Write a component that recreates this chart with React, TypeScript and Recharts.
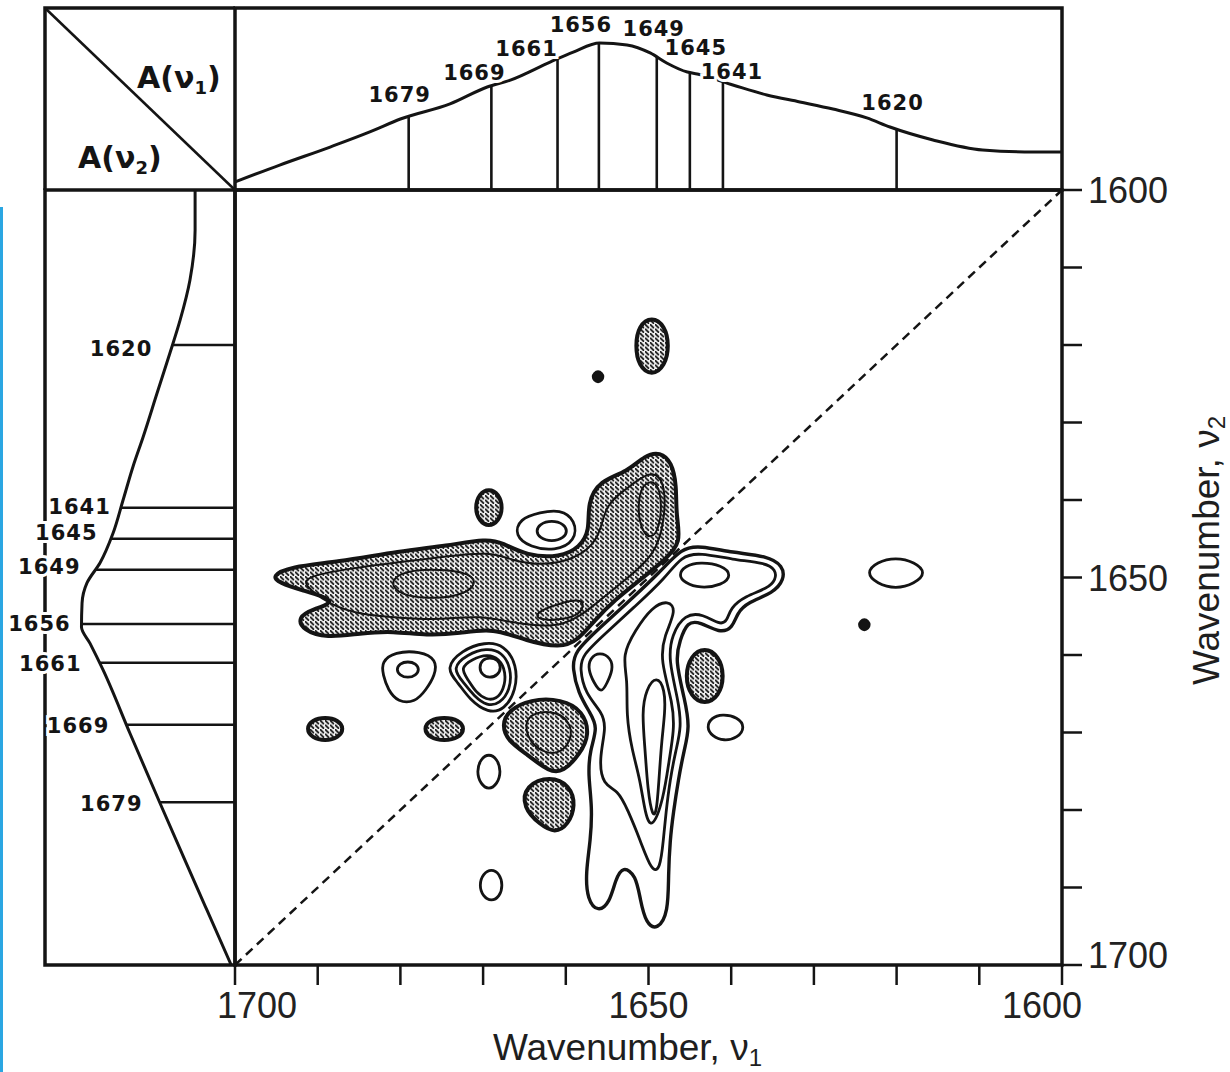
import React from "react";
import {
  Curve,
  ReferenceArea,
  ReferenceDot,
  ReferenceLine,
  Scatter,
  ScatterChart,
  XAxis,
  YAxis,
} from "recharts";

type Pair = [number, number];

const W = 1230;
const H = 1072;
const INK = "#141414";

// wavenumber ticks shared by both axes (cm-1)
const wavenumberTicks = [1600, 1610, 1620, 1630, 1640, 1650, 1660, 1670, 1680, 1690, 1700];

// absorbance A(ν1) above the map, [ν, A]
const topSpectrum: Pair[] = [
  [1700, 0.044], [1694.6, 0.137], [1688.5, 0.236], [1683.7, 0.319], [1680.0, 0.39],
  [1674.0, 0.473], [1669.5, 0.566], [1666.7, 0.604], [1661.9, 0.703], [1659.1, 0.758],
  [1655.9, 0.808], [1652.6, 0.797], [1649.8, 0.753], [1647.8, 0.698], [1645.3, 0.648],
  [1644.1, 0.637], [1639.8, 0.577], [1635.7, 0.522], [1631.7, 0.484], [1627.7, 0.445],
  [1623.6, 0.396], [1620.8, 0.346], [1615.6, 0.275], [1609.6, 0.22], [1603.5, 0.209],
  [1600, 0.209],
];

// absorbance A(ν2) left of the map, [ν, A]
const leftSpectrum: Pair[] = [
  [1600, 0.21], [1605.2, 0.21], [1611.6, 0.237], [1616.8, 0.289], [1621.0, 0.342],
  [1626.2, 0.41], [1631.9, 0.484], [1635.7, 0.537], [1640.0, 0.589], [1644.3, 0.642],
  [1648.1, 0.71], [1650.7, 0.779], [1653.3, 0.805], [1656.4, 0.808], [1658.5, 0.763],
  [1661.9, 0.695], [1670.1, 0.553], [1679.1, 0.395], [1686.5, 0.263], [1692.9, 0.148],
  [1700, 0.02],
];

// marked bands and the spectrum height at each
const bandNu = [1679, 1669, 1661, 1656, 1649, 1645, 1641, 1620];
const topBandAbs = [0.404, 0.573, 0.72, 0.807, 0.731, 0.645, 0.594, 0.335];
const leftBandAbs = [0.397, 0.572, 0.713, 0.807, 0.734, 0.655, 0.601, 0.33];

// label nudges in px (dx, dy), same order as bandNu
const topLabelNudge: Pair[] = [[-9, -21], [-17, -13], [-31, -10], [-18, -18], [-3, -28], [6, -25], [9, -10], [-4, -26]];
const leftLabelNudge: Pair[] = [[-17, 2], [-17, 1], [-18, 1], [-11, 0], [-15, -3], [-13, -6], [-10, -1], [-20, 4]];

// ---- synchronous (shaded) contours, [ν1, ν2] ----
const bandOuter: Pair[] = [
  [1695.6, 1649.8], [1693.3, 1648.6], [1687.7, 1648.0], [1680.0, 1646.6], [1674.4, 1645.9],
  [1669.5, 1645.0], [1667.7, 1645.5], [1664.7, 1647.2], [1660.7, 1647.4], [1658.3, 1646.1],
  [1657.1, 1643.9], [1657.4, 1640.4], [1655.9, 1637.5], [1652.6, 1636.4], [1650.4, 1634.2],
  [1648.6, 1633.8], [1647.2, 1635.1], [1646.6, 1638.1], [1646.7, 1641.9], [1646.0, 1645.5],
  [1648.0, 1647.7], [1651.0, 1650.3], [1654.1, 1652.9], [1656.5, 1655.5], [1658.5, 1658.1],
  [1660.7, 1659.1], [1664.7, 1658.2], [1668.8, 1656.5], [1672.8, 1657.2], [1676.8, 1657.5],
  [1680.9, 1656.9], [1684.9, 1657.2], [1688.9, 1657.8], [1691.8, 1656.8], [1692.4, 1655.1],
  [1690.6, 1654.1], [1687.3, 1653.0], [1692.1, 1651.6], [1694.6, 1650.7],
];
const bandInner: Pair[] = [
  [1692.1, 1650.1], [1687.3, 1649.0], [1680.0, 1648.0], [1674.0, 1647.2], [1669.2, 1646.7],
  [1666.7, 1647.7], [1663.1, 1648.5], [1658.9, 1647.7], [1655.9, 1645.2], [1655.3, 1640.6],
  [1652.8, 1638.7], [1649.8, 1636.1], [1648.0, 1637.4], [1648.0, 1642.6], [1649.2, 1647.1],
  [1652.8, 1650.3], [1656.5, 1653.5], [1660.1, 1656.5], [1665.5, 1656.1], [1670.4, 1654.8],
  [1675.2, 1655.5], [1680.0, 1655.2], [1684.9, 1654.8], [1688.5, 1653.5], [1690.9, 1651.6],
];
const bandInnerB: Pair[] = [
  [1650.8, 1637.9], [1649.1, 1637.4], [1648.4, 1639.7], [1648.6, 1643.6], [1649.8, 1645.2],
  [1651.0, 1643.6], [1651.3, 1640.6],
];
const bandInnerC: Pair[] = [
  [1680.7, 1649.3], [1675.2, 1648.8], [1670.4, 1649.7], [1671.6, 1652.3], [1677.6, 1652.9],
  [1681.3, 1651.6],
];
const bandInnerD: Pair[] = [
  [1663.7, 1654.5], [1660.7, 1653.3], [1657.7, 1652.6], [1658.0, 1654.7], [1660.5, 1655.5],
  [1663.4, 1655.5],
];
const islandTop: Pair[] = [
  [1649.6, 1616.3], [1648.0, 1617.5], [1647.5, 1620.1], [1648.0, 1622.7], [1649.6, 1624.0],
  [1651.2, 1622.7], [1651.6, 1620.1], [1651.2, 1617.5],
];
const dotUpper: Pair[] = [
  [1656.1, 1623.3], [1655.6, 1623.6], [1655.4, 1624.1], [1655.6, 1624.6], [1656.1, 1624.9],
  [1656.6, 1624.6], [1656.8, 1624.1], [1656.6, 1623.6],
];
const dotRight: Pair[] = [
  [1623.9, 1655.3], [1623.4, 1655.6], [1623.2, 1656.1], [1623.4, 1656.6], [1623.9, 1656.9],
  [1624.4, 1656.6], [1624.6, 1656.1], [1624.4, 1655.6],
];
const islandSmall: Pair[] = [
  [1669.3, 1638.5], [1668.1, 1639.2], [1667.6, 1641.0], [1668.1, 1642.7], [1669.3, 1643.5],
  [1670.5, 1642.7], [1671.0, 1641.0], [1670.5, 1639.2],
];
const blobLower: Pair[] = [
  [1667.0, 1667.2], [1664.3, 1665.7], [1660.5, 1665.7], [1657.9, 1667.2], [1657.1, 1670.3],
  [1658.3, 1672.8], [1660.3, 1675.1], [1662.0, 1675.1], [1664.6, 1672.9], [1667.1, 1671.0],
  [1667.7, 1669.0],
];
const blobLowerInner: Pair[] = [
  [1664.9, 1667.4], [1660.7, 1667.1], [1658.9, 1669.7], [1660.1, 1672.5], [1662.5, 1672.9],
  [1664.9, 1670.7],
];
const blobLowest: Pair[] = [
  [1664.9, 1676.8], [1661.9, 1675.6], [1659.5, 1676.8], [1658.8, 1679.4], [1659.7, 1681.9],
  [1661.3, 1683.0], [1663.1, 1681.9], [1665.2, 1679.7],
];
const ovalFarLeft: Pair[] = [
  [1689.1, 1668.0], [1687.5, 1668.4], [1686.8, 1669.5], [1687.5, 1670.7], [1689.1, 1671.1],
  [1690.7, 1670.7], [1691.4, 1669.5], [1690.7, 1668.4],
];
const ovalLeft: Pair[] = [
  [1674.7, 1668.0], [1672.9, 1668.4], [1672.2, 1669.5], [1672.9, 1670.7], [1674.7, 1671.1],
  [1676.5, 1670.7], [1677.2, 1669.5], [1676.5, 1668.4],
];
const ovalRight: Pair[] = [
  [1643.2, 1659.0], [1641.5, 1660.1], [1640.8, 1662.7], [1641.5, 1665.4], [1643.2, 1666.4],
  [1644.9, 1665.4], [1645.6, 1662.7], [1644.9, 1660.1],
];

// ---- open (unshaded) contours ----
const kidneyOuter: Pair[] = [
  [1665.6, 1642.4], [1663.1, 1641.6], [1660.7, 1641.2], [1658.8, 1642.6], [1658.8, 1645.3],
  [1661.3, 1646.6], [1664.3, 1646.1], [1666.2, 1644.6],
];
const kidneyInner: Pair[] = [
  [1661.7, 1642.6], [1660.2, 1643.1], [1659.8, 1644.0], [1660.2, 1644.9], [1661.7, 1645.4],
  [1663.2, 1644.9], [1663.6, 1644.0], [1663.2, 1643.1],
];
const ringLeftOuter: Pair[] = [
  [1682.3, 1660.9], [1680.7, 1659.6], [1677.6, 1659.5], [1675.6, 1660.6], [1675.8, 1662.6],
  [1676.9, 1664.5], [1678.2, 1666.1], [1680.3, 1666.1], [1681.5, 1664.5], [1682.1, 1662.6],
];
const ringLeftInner: Pair[] = [
  [1679.1, 1660.8], [1678.1, 1661.1], [1677.7, 1661.9], [1678.1, 1662.6], [1679.1, 1663.0],
  [1680.1, 1662.6], [1680.5, 1661.9], [1680.1, 1661.1],
];
const ringMidA: Pair[] = [
  [1674.6, 1661.7], [1672.6, 1659.4], [1669.8, 1658.3], [1667.4, 1658.7], [1665.9, 1661.3],
  [1666.0, 1664.5], [1667.4, 1667.1], [1669.4, 1667.5], [1671.6, 1665.8], [1673.0, 1663.6],
];
const ringMidB: Pair[] = [
  [1673.8, 1661.7], [1671.9, 1659.9], [1669.6, 1659.1], [1667.7, 1659.6], [1666.6, 1661.7],
  [1666.7, 1664.5], [1668.0, 1666.3], [1669.5, 1666.6], [1671.1, 1665.3], [1672.4, 1663.5],
];
const ringMidC: Pair[] = [
  [1672.8, 1661.7], [1671.3, 1660.5], [1669.5, 1659.9], [1668.1, 1660.4], [1667.2, 1662.2],
  [1667.5, 1664.5], [1668.4, 1665.7], [1669.6, 1665.8], [1670.9, 1664.8], [1671.8, 1663.2],
];
const ringMidD: Pair[] = [
  [1669.2, 1660.3], [1668.2, 1660.6], [1667.8, 1661.6], [1668.2, 1662.6], [1669.2, 1663.0],
  [1670.1, 1662.6], [1670.5, 1661.6], [1670.1, 1660.6],
];
const ovalBelowA: Pair[] = [
  [1669.3, 1672.7], [1668.3, 1673.4], [1667.8, 1675.0], [1668.3, 1676.7], [1669.3, 1677.4],
  [1670.3, 1676.7], [1670.8, 1675.0], [1670.3, 1673.4],
];
const ovalBelowB: Pair[] = [
  [1669.0, 1687.6], [1668.0, 1688.2], [1667.6, 1689.7], [1668.0, 1691.2], [1669.0, 1691.8],
  [1670.0, 1691.2], [1670.5, 1689.7], [1670.0, 1688.2],
];
const lensRight: Pair[] = [
  [1620.1, 1647.4], [1617.8, 1648.0], [1616.4, 1649.4], [1617.8, 1650.8], [1620.1, 1651.5],
  [1622.4, 1650.8], [1623.7, 1649.4], [1622.4, 1648.0],
];
const dropRight: Pair[] = [
  [1641.1, 1667.6], [1639.2, 1668.0], [1638.3, 1669.3], [1639.2, 1670.7], [1640.9, 1671.1],
  [1642.3, 1670.5], [1643.0, 1669.3], [1642.4, 1668.1],
];
const tailOuter: Pair[] = [
  [1646.0, 1646.2], [1643.8, 1645.9], [1639.8, 1646.8], [1635.7, 1647.2], [1633.7, 1648.5],
  [1633.6, 1650.3], [1634.9, 1652.0], [1638.0, 1653.2], [1639.3, 1654.6], [1639.8, 1656.5],
  [1641.4, 1657.2], [1643.8, 1655.7], [1645.3, 1655.7], [1646.2, 1658.1], [1646.8, 1660.6],
  [1645.6, 1665.8], [1645.0, 1669.3], [1645.7, 1672.3], [1646.4, 1676.1], [1647.0, 1680.4],
  [1647.4, 1683.9], [1647.6, 1688.4], [1647.6, 1693.2], [1648.9, 1695.5], [1650.3, 1694.7],
  [1651.0, 1691.6], [1651.5, 1688.4], [1653.1, 1687.2], [1654.0, 1689.0], [1654.7, 1692.0],
  [1656.1, 1693.2], [1657.4, 1691.6], [1657.6, 1688.1], [1657.0, 1683.9], [1656.8, 1679.6],
  [1657.3, 1675.5], [1657.1, 1672.3], [1656.1, 1669.3], [1657.1, 1667.4], [1658.5, 1664.9],
  [1659.2, 1661.7], [1659.0, 1659.6], [1655.9, 1656.5], [1652.2, 1652.9], [1648.6, 1649.3],
];
const tailSecond: Pair[] = [
  [1646.0, 1647.2], [1643.8, 1646.8], [1639.8, 1647.7], [1635.9, 1648.1], [1634.6, 1649.0],
  [1634.6, 1650.3], [1635.6, 1651.4], [1638.3, 1652.4], [1640.1, 1653.9], [1640.5, 1655.7],
  [1641.4, 1656.1], [1643.4, 1654.7], [1645.6, 1654.7], [1647.2, 1657.4], [1647.6, 1660.6],
  [1646.4, 1665.8], [1646.0, 1669.3], [1646.7, 1672.3], [1647.4, 1676.1], [1647.9, 1680.4],
  [1648.2, 1683.9], [1648.6, 1687.7], [1649.6, 1688.0], [1651.0, 1683.9], [1652.5, 1680.0],
  [1653.7, 1677.4], [1655.5, 1676.8], [1656.0, 1673.5], [1655.1, 1669.3], [1655.6, 1667.4],
  [1657.7, 1664.9], [1658.3, 1661.7], [1658.0, 1660.0], [1655.3, 1657.3], [1651.6, 1653.7],
  [1648.0, 1650.1],
];
const tailThird: Pair[] = [
  [1649.6, 1653.8], [1647.6, 1652.9], [1646.6, 1654.2], [1648.1, 1657.5], [1648.6, 1660.6],
  [1647.0, 1666.4], [1646.9, 1669.7], [1647.5, 1673.5], [1648.2, 1678.7], [1649.6, 1682.6],
  [1650.4, 1680.6], [1651.0, 1676.1], [1652.0, 1672.3], [1652.7, 1667.7], [1652.5, 1663.2],
  [1653.2, 1660.0], [1651.6, 1656.8],
];
const tailCore: Pair[] = [
  [1649.0, 1662.6], [1648.0, 1664.5], [1648.0, 1667.4], [1648.4, 1671.0], [1648.7, 1675.5],
  [1649.0, 1680.3], [1649.5, 1681.0], [1650.1, 1677.4], [1650.4, 1672.3], [1650.8, 1667.4],
  [1650.3, 1664.4],
];
const lobeInner: Pair[] = [
  [1643.8, 1648.0], [1641.1, 1648.4], [1639.9, 1649.7], [1641.1, 1651.0], [1643.8, 1651.4],
  [1645.6, 1650.7], [1646.4, 1649.7], [1645.6, 1648.5],
];
const teardrop: Pair[] = [
  [1655.9, 1659.6], [1654.5, 1660.4], [1654.3, 1661.9], [1655.0, 1663.6], [1655.7, 1665.0],
  [1656.6, 1663.6], [1657.3, 1661.9], [1657.1, 1660.4],
];

const shadedOutlines = [
  bandOuter, islandTop, islandSmall, blobLower, blobLowest, ovalFarLeft, ovalLeft, ovalRight,
];
const solidDots = [dotUpper, dotRight];
const shadedInner = [bandInner, bandInnerB, bandInnerC, bandInnerD, blobLowerInner];
const openContours = [
  kidneyOuter, kidneyInner, ringLeftOuter, ringLeftInner, ringMidA, ringMidB, ringMidC,
  ringMidD, ovalBelowA, ovalBelowB, lensRight, dropRight, tailSecond, tailThird,
  tailCore, lobeInner, teardrop,
];
const heavyContours = [tailOuter];

const asPoints = (pairs: Pair[]) => pairs.map(([x, y]) => ({ x, y }));
const asFlipped = (pairs: Pair[]) => pairs.map(([nu, a]) => ({ x: a, y: nu }));

const Blank = () => <g />;

const closedContour = (fill: string, width: number) => (p: any) => (
  <Curve points={p.points} type="basisClosed" fill={fill} stroke={INK} strokeWidth={width} />
);

const spectrumLine = (type: "monotoneX" | "monotoneY") => (p: any) => (
  <Curve points={p.points} type={type} fill="none" stroke={INK} strokeWidth={3} />
);

const numFont: React.CSSProperties = {
  fontFamily: "'Liberation Sans', Arial, sans-serif",
  fontSize: 36,
  fill: "#222",
};
const titleFont: React.CSSProperties = {
  fontFamily: "'Liberation Sans', Arial, sans-serif",
  fontSize: 37,
  fill: "#1e1e1e",
};
const bandFont: React.CSSProperties = {
  fontFamily: "'DejaVu Sans', sans-serif",
  fontWeight: 700,
  fontSize: 21,
  letterSpacing: 1,
  fill: INK,
  stroke: "#fff",
  strokeWidth: 6,
  paintOrder: "stroke",
};

const renderXTick = (p: any) => {
  const v = p.payload?.value;
  if (v % 50 !== 0) return <g />;
  const shift = v === 1700 ? 22 : v === 1600 ? -20 : 0;
  return (
    <text x={p.x + shift} y={p.y + 27} textAnchor="middle" style={numFont}>
      {v}
    </text>
  );
};

const renderYTick = (p: any) => {
  const v = p.payload?.value;
  if (v % 50 !== 0) return <g />;
  const shift = v === 1700 ? -10 : 0;
  return (
    <text x={p.x} y={p.y + 13 + shift} textAnchor="start" style={numFont}>
      {v}
    </text>
  );
};

const renderXTitle = (p: any) => {
  const vb = p.viewBox && p.viewBox.width ? p.viewBox : { x: 235, y: 965, width: 827, height: 100 };
  return (
    <text x={vb.x + vb.width / 2 - 21} y={vb.y + 95} textAnchor="middle" style={titleFont}>
      Wavenumber, ν<tspan dy={6} fontSize={24}>1</tspan>
    </text>
  );
};

const renderYTitle = (p: any) => {
  const vb = p.viewBox && p.viewBox.height ? p.viewBox : { x: 1062, y: 190, width: 150, height: 775 };
  const cx = vb.x + 157;
  const cy = vb.y + vb.height / 2 - 27;
  return (
    <text x={cx} y={cy} transform={`rotate(-90 ${cx} ${cy})`} textAnchor="middle" style={titleFont}>
      Wavenumber, ν<tspan dy={6} fontSize={24}>2</tspan>
    </text>
  );
};

const layer: React.CSSProperties = { position: "absolute", left: 0, top: 0 };

function TopSpectrum() {
  return (
    <div style={layer}>
      <ScatterChart width={W} height={H} margin={{ top: 8, right: 168, bottom: 882, left: 235 }}>
        <XAxis type="number" dataKey="x" domain={[1600, 1700]} reversed hide />
        <YAxis type="number" dataKey="y" domain={[0, 1]} hide />
        <ReferenceArea x1={1600} x2={1700} y1={0} y2={1} fill="none" stroke={INK} strokeWidth={3.5} />
        <Scatter
          data={asPoints(topSpectrum)}
          shape={Blank}
          line={spectrumLine("monotoneX")}
          lineType="joint"
          isAnimationActive={false}
        />
        {bandNu.map((nu, i) => (
          <ReferenceLine
            key={`tl${nu}`}
            segment={[{ x: nu, y: 0 }, { x: nu, y: topBandAbs[i] }]}
            stroke={INK}
            strokeWidth={2.6}
          />
        ))}
        {bandNu.map((nu, i) => (
          <ReferenceDot
            key={`tt${nu}`}
            x={nu}
            y={topBandAbs[i]}
            r={0}
            shape={(p: any) => (
              <text
                x={p.cx + topLabelNudge[i][0]}
                y={p.cy + topLabelNudge[i][1]}
                textAnchor="middle"
                dominantBaseline="central"
                style={bandFont}
              >
                {nu}
              </text>
            )}
          />
        ))}
      </ScatterChart>
    </div>
  );
}

function LeftSpectrum() {
  return (
    <div style={layer}>
      <ScatterChart width={W} height={H} margin={{ top: 190, right: 995, bottom: 107, left: 45 }}>
        <XAxis type="number" dataKey="x" domain={[0, 1]} reversed hide />
        <YAxis type="number" dataKey="y" domain={[1600, 1700]} reversed hide />
        <ReferenceArea x1={0} x2={1} y1={1600} y2={1700} fill="none" stroke={INK} strokeWidth={3.5} />
        <Scatter
          data={asFlipped(leftSpectrum)}
          shape={Blank}
          line={spectrumLine("monotoneY")}
          lineType="joint"
          isAnimationActive={false}
        />
        {bandNu.map((nu, i) => (
          <ReferenceLine
            key={`ll${nu}`}
            segment={[{ x: 0, y: nu }, { x: leftBandAbs[i], y: nu }]}
            stroke={INK}
            strokeWidth={2.6}
          />
        ))}
        {bandNu.map((nu, i) => (
          <ReferenceDot
            key={`lt${nu}`}
            x={leftBandAbs[i]}
            y={nu}
            r={0}
            shape={(p: any) => (
              <text
                x={p.cx + leftLabelNudge[i][0]}
                y={p.cy + leftLabelNudge[i][1]}
                textAnchor="end"
                dominantBaseline="central"
                style={bandFont}
              >
                {nu}
              </text>
            )}
          />
        ))}
      </ScatterChart>
    </div>
  );
}

function CorrelationMap() {
  return (
    <div style={layer}>
      <ScatterChart width={W} height={H} margin={{ top: 190, right: 18, bottom: 7, left: 235 }}>
        <defs>
          <pattern id="stipple" width={5} height={4.5} patternUnits="userSpaceOnUse">
            <rect width={5} height={4.5} fill="#f2f2f2" />
            <path d="M0.4 0.6 L3.4 3.6" stroke="#1e1e1e" strokeWidth={1.8} strokeLinecap="round" />
          </pattern>
        </defs>
        <XAxis
          type="number"
          dataKey="x"
          domain={[1600, 1700]}
          reversed
          ticks={wavenumberTicks}
          interval={0}
          height={100}
          tickSize={20}
          tickMargin={6}
          axisLine={false}
          tickLine={{ stroke: INK, strokeWidth: 2.5 }}
          tick={renderXTick}
          label={renderXTitle}
        />
        <YAxis
          type="number"
          dataKey="y"
          orientation="right"
          domain={[1600, 1700]}
          reversed
          ticks={wavenumberTicks}
          interval={0}
          width={150}
          tickSize={20}
          tickMargin={6}
          axisLine={false}
          tickLine={{ stroke: INK, strokeWidth: 2.5 }}
          tick={renderYTick}
          label={renderYTitle}
        />
        <ReferenceArea x1={1600} x2={1700} y1={1600} y2={1700} fill="none" stroke={INK} strokeWidth={3.5} />
        <ReferenceLine
          segment={[{ x: 1700, y: 1700 }, { x: 1600, y: 1600 }]}
          stroke={INK}
          strokeWidth={2.5}
          strokeDasharray="9 6"
        />
        {openContours.map((c, i) => (
          <Scatter
            key={`o${i}`}
            data={asPoints(c)}
            shape={Blank}
            line={closedContour("none", 2.8)}
            lineType="joint"
            isAnimationActive={false}
          />
        ))}
        {heavyContours.map((c, i) => (
          <Scatter
            key={`h${i}`}
            data={asPoints(c)}
            shape={Blank}
            line={closedContour("none", 3.4)}
            lineType="joint"
            isAnimationActive={false}
          />
        ))}
        {shadedOutlines.map((c, i) => (
          <Scatter
            key={`s${i}`}
            data={asPoints(c)}
            shape={Blank}
            line={closedContour("url(#stipple)", 4)}
            lineType="joint"
            isAnimationActive={false}
          />
        ))}
        {solidDots.map((c, i) => (
          <Scatter
            key={`d${i}`}
            data={asPoints(c)}
            shape={Blank}
            line={closedContour(INK, 2)}
            lineType="joint"
            isAnimationActive={false}
          />
        ))}
        {shadedInner.map((c, i) => (
          <Scatter
            key={`si${i}`}
            data={asPoints(c)}
            shape={Blank}
            line={closedContour("none", 2)}
            lineType="joint"
            isAnimationActive={false}
          />
        ))}
      </ScatterChart>
    </div>
  );
}

export default function App() {
  const cornerFont: React.CSSProperties = {
    fontFamily: "'DejaVu Sans', sans-serif",
    fontWeight: 700,
    fontSize: 30,
    fill: INK,
  };
  return (
    <div style={{ position: "absolute", left: 0, top: 0, width: W, height: H, background: "#fff" }}>
      <svg width={W} height={H} style={layer}>
        <path d="M45 190 V8 H235" fill="none" stroke={INK} strokeWidth={3.5} />
        <line x1={45} y1={8} x2={235} y2={190} stroke={INK} strokeWidth={2.5} />
        <text x={137} y={88} style={cornerFont}>
          A(ν<tspan dy={6} fontSize={18}>1</tspan>
          <tspan dy={-6}>)</tspan>
        </text>
        <text x={78} y={168} style={cornerFont}>
          A(ν<tspan dy={6} fontSize={18}>2</tspan>
          <tspan dy={-6}>)</tspan>
        </text>
      </svg>
      <TopSpectrum />
      <LeftSpectrum />
      <CorrelationMap />
      <div style={{ position: "absolute", left: 0, top: 207, width: 3, height: 865, background: "#2aa6e2" }} />
    </div>
  );
}
